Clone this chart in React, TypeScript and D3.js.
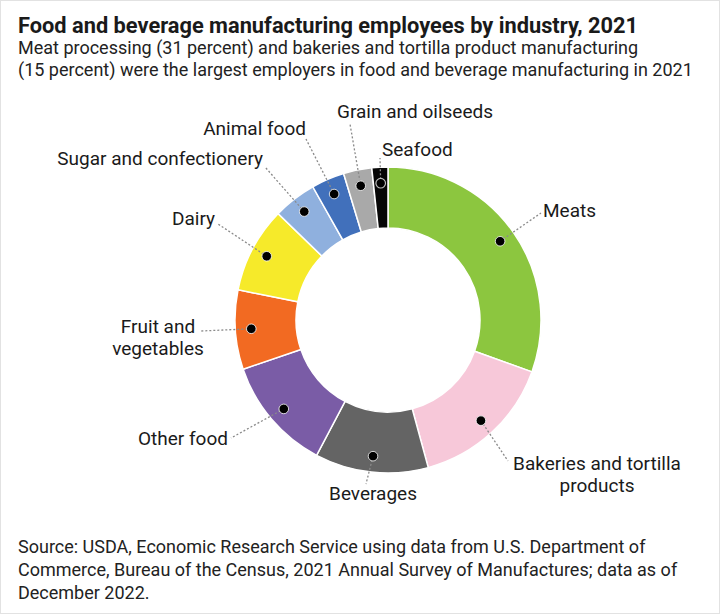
import React from 'react';
import * as d3 from 'd3';

// share of food and beverage manufacturing employees, percent (clockwise from 12 o'clock)
const industries = [
  'Meats',
  'Bakeries and tortilla products',
  'Beverages',
  'Other food',
  'Fruit and vegetables',
  'Dairy',
  'Sugar and confectionery',
  'Animal food',
  'Grain and oilseeds',
  'Seafood',
];
const shares = [30.6, 15.3, 12.0, 12.1, 8.4, 9.1, 4.6, 3.5, 3.0, 1.7];
const colors = [
  '#8cc63f',
  '#f7c8d9',
  '#646464',
  '#7a5ca6',
  '#f26a22',
  '#f6ea2a',
  '#8fb0de',
  '#4170bb',
  '#a9a9a9',
  '#060606',
];

// label text lines
const labelLines = [
  ['Meats'],
  ['Bakeries and tortilla', 'products'],
  ['Beverages'],
  ['Other food'],
  ['Fruit and', 'vegetables'],
  ['Dairy'],
  ['Sugar and confectionery'],
  ['Animal food'],
  ['Grain and oilseeds'],
  ['Seafood'],
];

// where each label sits and where its leader line stops
const labelLayout = [
  { x: 543, y: 217, anchor: 'start', lx: 541, ly: 213 },
  { x: 597, y: 470, anchor: 'middle', lx: 508, ly: 461 },
  { x: 373, y: 500, anchor: 'middle', lx: 366, ly: 484 },
  { x: 228, y: 445, anchor: 'end', lx: 231, ly: 438 },
  { x: 158, y: 333, anchor: 'middle', lx: 201, ly: 331 },
  { x: 215, y: 225, anchor: 'end', lx: 218, ly: 224 },
  { x: 263, y: 165, anchor: 'end', lx: 265, ly: 167 },
  { x: 306, y: 135, anchor: 'end', lx: 306, ly: 139 },
  { x: 337, y: 118, anchor: 'start', lx: 350, ly: 124 },
  { x: 382, y: 156, anchor: 'start', lx: 380, ly: 158 },
];

const subtitle = [
  'Meat processing (31 percent) and bakeries and tortilla product manufacturing',
  '(15 percent) were the largest employers in food and beverage manufacturing in 2021',
];
const source = [
  'Source: USDA, Economic Research Service using data from U.S. Department of',
  'Commerce, Bureau of the Census, 2021 Annual Survey of Manufactures; data as of',
  'December 2022.',
];

export default function App() {
  const width = 720;
  const height = 614;
  const cx = 388;
  const cy = 320;
  const outerR = 153;
  const innerR = 92;
  const dotR = 137;
  const font = 'Roboto, "Noto Sans", sans-serif';

  const data = industries.map((name, i) => ({ name, value: shares[i], i }));
  const pie = d3
    .pie<{ name: string; value: number; i: number }>()
    .sort(null)
    .value((d) => d.value);
  const arcs = pie(data);

  const arc = d3
    .arc<d3.PieArcDatum<{ name: string; value: number; i: number }>>()
    .innerRadius(innerR)
    .outerRadius(outerR);
  const dotArc = d3
    .arc<d3.PieArcDatum<{ name: string; value: number; i: number }>>()
    .innerRadius(dotR)
    .outerRadius(dotR);

  return (
    <svg
      width={width}
      height={height}
      style={{ position: 'absolute', left: 0, top: 0, background: '#fff' }}
      fontFamily={font}
    >
      <rect x={0.5} y={0.5} width={width - 1} height={height - 1} fill="#fff" stroke="#e2e2e2" />

      <text x={18} y={33} fontSize={21.8} fontWeight={700} fill="#1a1a1a">
        Food and beverage manufacturing employees by industry, 2021
      </text>
      {subtitle.map((t, i) => (
        <text key={i} x={18} y={54 + i * 22} fontSize={18} fill="#222">
          {t}
        </text>
      ))}

      <g transform={`translate(${cx},${cy})`}>
        {arcs.map((a) => (
          <path key={a.data.name} d={arc(a) || ''} fill={colors[a.data.i]} stroke="#fff" strokeWidth={1.5} />
        ))}
      </g>

      {/* leader lines */}
      {arcs.map((a) => {
        const [dx, dy] = dotArc.centroid(a);
        const l = labelLayout[a.data.i];
        return (
          <line
            key={a.data.name}
            x1={cx + dx}
            y1={cy + dy}
            x2={l.lx}
            y2={l.ly}
            stroke="#8a8a8a"
            strokeWidth={1.3}
            strokeDasharray="2,2"
          />
        );
      })}

      {/* dots */}
      {arcs.map((a) => {
        const [dx, dy] = dotArc.centroid(a);
        const last = a.data.i === industries.length - 1;
        return (
          <circle
            key={a.data.name}
            cx={cx + dx}
            cy={cy + dy}
            r={4.8}
            fill="#000"
            stroke={last ? '#bbb' : '#fff'}
            strokeWidth={last ? 1.2 : 0.8}
          />
        );
      })}

      {labelLines.map((lines, i) => {
        const l = labelLayout[i];
        return (
          <text key={i} x={l.x} y={l.y} fontSize={19} fill="#1a1a1a" textAnchor={l.anchor}>
            {lines.map((t, j) => (
              <tspan key={j} x={l.x} dy={j === 0 ? 0 : 22}>
                {t}
              </tspan>
            ))}
          </text>
        );
      })}

      {source.map((t, i) => (
        <text key={i} x={18} y={553 + i * 23} fontSize={18} fill="#222">
          {t}
        </text>
      ))}
    </svg>
  );
}
